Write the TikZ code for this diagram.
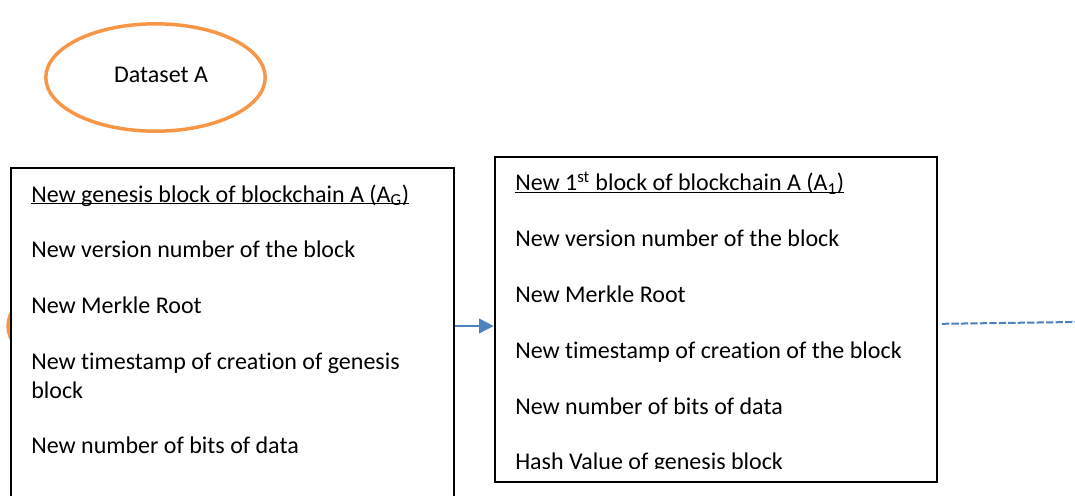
\documentclass[tikz,border=0pt]{standalone}
\usepackage{fontspec}
\setmainfont{Carlito}[Ligatures={NoCommon,NoContextual}]
\usetikzlibrary{arrows.meta}
\definecolor{dsorange}{HTML}{F79646}
\definecolor{linkblue}{HTML}{4F81BD}
\tikzset{
  datasetring/.style={draw=dsorange, line width=2.6pt},
  blockbox/.style={draw=black, fill=white, line width=1.5pt, rectangle, anchor=north west, inner sep=0pt},
  entry/.style={anchor=base west, inner sep=0pt, font=\fontsize{18pt}{21pt}\selectfont},
  headline/.style={line width=1.1pt},
  link/.style={draw=linkblue, line width=1.2pt, -{Triangle[length=11pt,width=11pt]}},
  nextlink/.style={draw=linkblue, line width=1.5pt, dash pattern=on 5.5pt off 1.6pt}
}
\begin{document}
\begin{tikzpicture}[x=0.75pt,y=-0.75pt]
  \fill[white] (0,0) rectangle (1075,496);
  \useasboundingbox (0,0) rectangle (1075,496);
  \clip (0,0) rectangle (1075,496);

  % dataset ellipse
  \draw[datasetring] (155.5,77.5) ellipse [x radius=109.7, y radius=53.7];
  \node[entry, anchor=base] (ds) at (161,82) {Dataset A};

  % second dataset ellipse, mostly hidden behind the genesis block
  \draw[datasetring] (118,326) ellipse [x radius=110, y radius=54];

  % genesis block
  \node[blockbox, minimum width=332pt, minimum height=260pt] (gen) at (10,167.3) {};
  \node[entry] (h1) at (31,202) {New genesis block of blockchain A (A\textsubscript{G})};
  \draw[headline] ([yshift=-1.3pt]h1.base west) -- ([yshift=-1.3pt]h1.base east);
  \node[entry] (g2) at (31,257.3) {New version number of the block};
  \node[entry] (g3) at (31,313.3) {New Merkle Root};
  \node[entry] (g4) at (31,369.3) {New timestamp of creation of genesis};
  \node[entry] (g4b) at (31,398) {block};
  \node[entry] (g5) at (31,453.3) {New number of bits of data};

  % first block
  \node[blockbox, minimum width=331.7pt, minimum height=243.5pt] (first) at (493.7,156) {};
  \begin{scope}
    \clip (494,156) rectangle (936,468.5);
    \node[entry] (h2) at (515,190.7) {New 1\textsuperscript{st} block of blockchain A (A\textsubscript{1})};
    \draw[headline] ([yshift=-1.3pt]h2.base west) -- ([yshift=-1.3pt]h2.base east);
    \node[entry] (f2) at (515,246.7) {New version number of the block};
    \node[entry] (f3) at (515,302.7) {New Merkle Root};
    \node[entry] (f4) at (515,358.3) {New timestamp of creation of the block};
    \node[entry] (f5) at (515,414) {New number of bits of data};
    \node[entry] (f6) at (515,469.3) {Hash Value of genesis block};
  \end{scope}

  % links between blocks
  \coordinate (lk) at (0,326);
  \coordinate (nx) at (1075,322);
  \draw[link] (gen.east |- lk) -- (first.west |- lk);
  \draw[nextlink] ([xshift=3pt]first.east |- 0,323.8) -- (nx);
\end{tikzpicture}
\end{document}
